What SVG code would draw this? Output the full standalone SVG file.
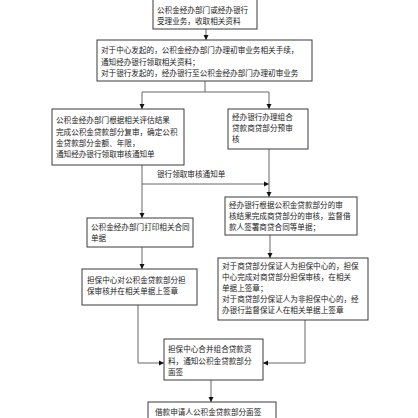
<svg xmlns="http://www.w3.org/2000/svg" width="418" height="418" viewBox="0 0 418 418">
<style>
.box{fill:#fff;stroke:#3a3a3a;stroke-width:1}
.t{font-family:"Noto Sans CJK SC","Noto Sans",sans-serif;font-size:7.6px;fill:#222}
.c{fill:none;stroke:#666;stroke-width:1}
</style>
<defs>
<marker id="ah" markerUnits="userSpaceOnUse" markerWidth="6" markerHeight="6" refX="5" refY="3" orient="auto">
<path d="M0,0.5 L5,3 L0,5.5 Z" fill="#111"/>
</marker>
</defs>
<rect width="418" height="418" fill="#fff"/>
<g id="connectors">
<path class="c" d="M206,29 V40" marker-end="url(#ah)"/>
<path class="c" d="M205,81 V92 M142,92 H269"/>
<path class="c" d="M142,92 V109" marker-end="url(#ah)"/>
<path class="c" d="M269,92 V109" marker-end="url(#ah)"/>
<path class="c" d="M142,165 V218" marker-end="url(#ah)"/>
<path class="c" d="M142,184 H269" marker-end="url(#ah)"/>
<path class="c" d="M269,149 V197" marker-end="url(#ah)"/>
<path class="c" d="M270,235 V258" marker-end="url(#ah)"/>
<path class="c" d="M142,247 V269" marker-end="url(#ah)"/>
<path class="c" d="M138,305 V363 H164" marker-end="url(#ah)"/>
<path class="c" d="M305,320 V363 H263" marker-end="url(#ah)"/>
<path class="c" d="M211,380 V402" marker-end="url(#ah)"/>
<text class="t" x="157" y="177">银行领取审核通知单</text>
</g>
<g id="n1">
<rect class="box" x="153" y="-1" width="104" height="30"/>
<text class="t" x="157" y="13">公积金经办部门或经办银行</text>
<text class="t" x="157" y="24">受理业务，收取相关资料</text>
</g>
<g id="n2">
<rect class="box" x="97" y="40" width="215" height="41"/>
<text class="t" x="101" y="53">对于中心发起的，公积金经办部门办理初审业务相关手续，</text>
<text class="t" x="101" y="65">通知经办银行领取相关资料；</text>
<text class="t" x="101" y="76">对于银行发起的，经办银行至公积金经办部门办理初审业务</text>
</g>
<g id="n3">
<rect class="box" x="52" y="109" width="132" height="56"/>
<text class="t" x="56" y="123">公积金经办部门根据相关评估结果</text>
<text class="t" x="56" y="135">完成公积金贷款部分复审，确定公积</text>
<text class="t" x="56" y="146">金贷款部分金额、年限，</text>
<text class="t" x="56" y="157">通知经办银行领取审核通知单</text>
</g>
<g id="n4">
<rect class="box" x="228" y="109" width="80" height="40"/>
<text class="t" x="232" y="120">经办银行办理组合</text>
<text class="t" x="232" y="131">贷款商贷部分预审</text>
<text class="t" x="232" y="142">核</text>
</g>
<g id="n5">
<rect class="box" x="87" y="218" width="106" height="29"/>
<text class="t" x="91" y="230">公积金经办部门打印相关合同</text>
<text class="t" x="91" y="241">单据</text>
</g>
<g id="n6">
<rect class="box" x="225" y="197" width="132" height="38"/>
<text class="t" x="229" y="208">经办银行根据公积金贷款部分的审</text>
<text class="t" x="229" y="219">核结果完成商贷部分的审核，监督借</text>
<text class="t" x="229" y="230">款人签署商贷合同等单据；</text>
</g>
<g id="n7">
<rect class="box" x="82" y="269" width="115" height="36"/>
<text class="t" x="87" y="283">担保中心对公积金贷款部分担</text>
<text class="t" x="87" y="294">保审核并在相关单据上签章</text>
</g>
<g id="n8">
<rect class="box" x="218" y="258" width="150" height="62"/>
<text class="t" x="222" y="269">对于商贷部分保证人为担保中心的，担保</text>
<text class="t" x="222" y="280">中心完成对商贷部分担保审核，在相关</text>
<text class="t" x="222" y="291">单据上签章；</text>
<text class="t" x="222" y="302">对于商贷部分保证人为非担保中心的，经</text>
<text class="t" x="222" y="313">办银行监督保证人在相关单据上签章</text>
</g>
<g id="n9">
<rect class="box" x="164" y="339" width="99" height="41"/>
<text class="t" x="168" y="352">担保中心合并组合贷款资</text>
<text class="t" x="168" y="364">料，通知公积金贷款部分</text>
<text class="t" x="168" y="375">面签</text>
</g>
<g id="n10">
<rect class="box" x="148" y="402" width="128" height="20"/>
<text class="t" x="155" y="415">借款申请人公积金贷款部分面签</text>
</g>
</svg>
